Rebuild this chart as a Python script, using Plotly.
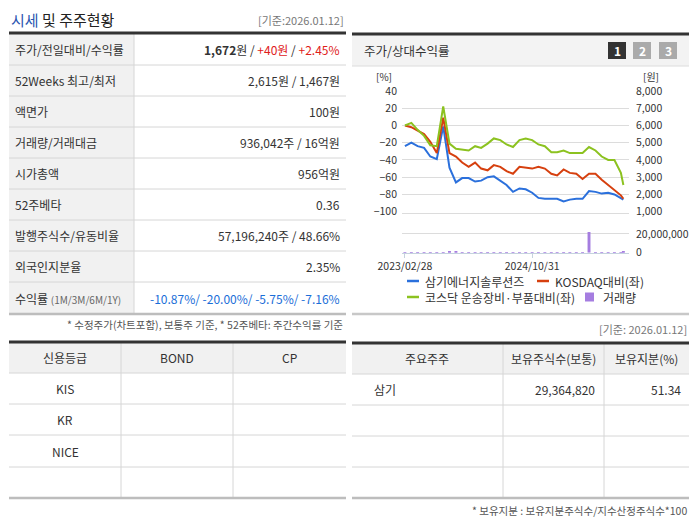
import plotly.graph_objects as go

# the page body keeps an 8px margin, so the figure is 16px smaller than the window
PAGE_W, PAGE_H, BODY = 699, 526, 8
W, H = PAGE_W - 2 * BODY, PAGE_H - 2 * BODY
FONT = "Noto Sans CJK KR"

# ---- chart data (monthly, relative return %) ----
dates = ["2023-02-28", "2023-03-31", "2023-04-30", "2023-05-31", "2023-06-30", "2023-07-31",
         "2023-08-31", "2023-09-30", "2023-10-31", "2023-11-30", "2023-12-31", "2024-01-31",
         "2024-02-29", "2024-03-31", "2024-04-30", "2024-05-31", "2024-06-30", "2024-07-31",
         "2024-08-31", "2024-09-30", "2024-10-31", "2024-11-30", "2024-12-31", "2025-01-31",
         "2025-02-28", "2025-03-31", "2025-04-30", "2025-05-31", "2025-06-30", "2025-07-31",
         "2025-08-31", "2025-09-30", "2025-10-31", "2025-11-30", "2025-12-31", "2026-01-12"]
samgi = [-24, -20, -24, -26, -36, -39, -1, -49, -66, -61, -61, -65, -64, -60, -59, -64, -69, -77,
         -73, -74, -78, -84, -85, -85, -85, -88, -86, -85, -85, -76, -77, -79, -78, -80, -85, -86]
kosdaq = [0, -2, -6, -10, -19, -32, 9, -32, -36, -43, -48, -43, -50, -52, -46, -48, -53, -56,
          -48, -49, -50, -48, -50, -56, -58, -51, -55, -56, -62, -56, -56, -63, -69, -74, -81, -85]
sector = [0, 3, -5, -12, -23, -24, 22, -21, -27, -28, -29, -24, -26, -21, -15, -17, -22, -25,
          -17, -15, -17, -22, -24, -31, -31, -29, -32, -32, -32, -25, -29, -36, -40, -40, -55, -69]
volume = [600000, 100000, 100000, 100000, 100000, 500000, 100000, 800000, 1500000, 600000, 100000, 100000,
          100000, 100000, 600000, 100000, 100000, 100000, 100000, 100000, 100000, 100000, 100000, 100000,
          100000, 100000, 100000, 100000, 100000, 22000000, 600000, 600000, 100000, 100000, 100000, 900000]

pct_ticks = [40, 20, 0, -20, -40, -60, -80, -100]
won_ticks = [8000, 7000, 6000, 5000, 4000, 3000, 2000, 1000]

# ---- table data ----
info_labels = ["주가/전일대비/수익률", "52Weeks 최고/최저", "액면가", "거래량/거래대금", "시가총액",
               "52주베타", "발행주식수/유동비율", "외국인지분율",
               "수익률 <span style='font-size:10px;color:#666'>(1M/3M/6M/1Y)</span>"]
info_values = ["<b>1,672</b>원 / <span style='color:#e0201a'>+40원</span> / "
               "<span style='color:#e0201a'>+2.45%</span>",
               "2,615원 / 1,467원", "100원", "936,042주 / 16억원", "956억원", "0.36",
               "57,196,240주 / 48.66%", "2.35%",
               "<span style='color:#1a6ed8'>-10.87%/ -20.00%/ -5.75%/ -7.16%</span>"]
credit_header = ["신용등급", "BOND", "CP"]
credit_agency = ["KIS", "KR", "NICE", ""]
holder_header = ["주요주주", "보유주식수(보통)", "보유지분(%)"]
holder_names = ["삼기", "", "", ""]
holder_shares = ["29,364,820", "", "", ""]
holder_pct = ["51.34", "", "", ""]

C_BLUE, C_RED, C_GREEN, C_VOL = "#2b70dc", "#d6400f", "#8cc220", "#a57de0"


# page pixel -> paper fraction
def px(x):
    return (x - BODY) / W


def py(y):
    return 1 - (y - BODY) / H


shapes = []
annots = []


def rect(x0, y0, x1, y1, fill):
    shapes.append(dict(type="rect", xref="paper", yref="paper", x0=px(x0), x1=px(x1),
                       y0=py(y1), y1=py(y0), fillcolor=fill, line_width=0, layer="below"))


def line(x0, y0, x1, y1, color, w=1):
    shapes.append(dict(type="line", xref="paper", yref="paper", x0=px(x0), x1=px(x1),
                       y0=py(y0), y1=py(y1), line=dict(color=color, width=w)))


def text(x, y, s, size=12, color="#333", anchor="left"):
    annots.append(dict(xref="paper", yref="paper", x=px(x), y=py(y), text=s, showarrow=False,
                       xanchor=anchor, yanchor="middle", font=dict(family=FONT, size=size, color=color)))


# ---- left: 시세 및 주주현황 ----
text(9, 19, "<span style='color:#2a55b0'>시세</span> 및 주주현황", size=15, color="#222")
text(346, 20, "[기준:2026.01.12]", size=11, color="#777", anchor="right")
rows = [33, 65, 96, 127, 158, 189, 220, 251, 282, 314]
rect(9, 33, 134, 314, "#f1f1f1")
for i in range(len(info_labels)):
    yc = (rows[i] + rows[i + 1]) / 2
    text(13, yc, info_labels[i], size=12)
    text(342, yc, info_values[i], size=12, anchor="right")
    if i > 0:
        line(9, rows[i], 346, rows[i], "#d6d6d6")
line(134, 33, 134, 314, "#d6d6d6")
line(9, 314, 346, 314, "#bdbdbd", 2.5)
line(9, 33, 346, 33, "#333", 3)
text(345, 324, "* 수정주가(차트포함), 보통주 기준, * 52주베타: 주간수익률 기준", size=10.5, color="#555", anchor="right")

# ---- credit table ----
crow = [342, 373, 404, 435, 467, 498]
ccol = [9, 121, 233, 346]
rect(9, 342, 346, 373, "#f1f1f1")
for r in crow[1:-1]:
    line(9, r, 346, r, "#d6d6d6")
for c in ccol[1:-1]:
    line(c, 342, c, 498, "#d6d6d6")
for j, h in enumerate(credit_header):
    text((ccol[j] + ccol[j + 1]) / 2, 357.5, h, size=12, anchor="center")
for i, a in enumerate(credit_agency):
    text((ccol[0] + ccol[1]) / 2, (crow[i + 1] + crow[i + 2]) / 2, a, size=12, anchor="center")
line(9, 498, 346, 498, "#bdbdbd", 2.5)
line(9, 342, 346, 342, "#333", 3)

# ---- holder table ----
text(689, 329, "[기준: 2026.01.12]", size=11, color="#777", anchor="right")
hrow = [343, 374, 405, 436, 467, 498]
hcol = [352, 503, 604, 689]
rect(352, 343, 689, 374, "#f1f1f1")
for r in hrow[1:-1]:
    line(352, r, 689, r, "#d6d6d6")
for c in hcol[1:-1]:
    line(c, 343, c, 498, "#d6d6d6")
for j, h in enumerate(holder_header):
    text((hcol[j] + hcol[j + 1]) / 2, 358.5, h, size=12, anchor="center")
for i in range(len(holder_names)):
    yc = (hrow[i + 1] + hrow[i + 2]) / 2
    text(372, yc, holder_names[i], size=12)
    text(597, yc, holder_shares[i], size=12, anchor="right")
    text(683, yc, holder_pct[i], size=12, anchor="right")
line(352, 498, 689, 498, "#bdbdbd", 2.5)
line(352, 343, 689, 343, "#333", 3)
text(689, 510, "* 보유지분 : 보유지분주식수/지수산정주식수*100", size=10.5, color="#555", anchor="right")

# ---- chart panel ----
rect(352, 34, 689, 66, "#f3f3f3")
line(352, 66, 689, 66, "#dcdcdc")
line(352, 34, 689, 34, "#333", 3)
line(352, 314, 689, 314, "#c8c8c8", 2.5)
text(362, 50, "주가/상대수익률", size=12.5)
for k, (bx, col) in enumerate([(608, "#333"), (633, "#aaa"), (659, "#aaa")]):
    rect(bx, 42, bx + 18, 59, col)
    text(bx + 9, 50.5, "<b>%d</b>" % (k + 1), size=12, color="white", anchor="center")
text(384, 76.5, "[%]", size=10, anchor="center")
text(651, 76.5, "[원]", size=10, anchor="center")
line(402, 213.5, 629, 213.5, "#dcdcdc")

# legend
legend_items = [(407, 281, C_BLUE, "삼기에너지솔루션즈", "line"), (537, 281, C_RED, "KOSDAQ대비(좌)", "line"),
                (407, 297, C_GREEN, "코스닥 운송장비·부품대비(좌)", "line"), (585, 297, C_VOL, "거래량", "box")]
for lx, ly, col, name, kind in legend_items:
    if kind == "line":
        line(lx, ly, lx + 12, ly, col, 2.5)
    else:
        rect(lx, ly - 4.5, lx + 9, ly + 4.5, col)
    text(lx + 16, ly, name, size=12)

fig = go.Figure()
fig.add_trace(go.Scatter(x=dates, y=samgi, mode="lines", line=dict(color=C_BLUE, width=2),
                         xaxis="x", yaxis="y", showlegend=False))
fig.add_trace(go.Scatter(x=dates, y=kosdaq, mode="lines", line=dict(color=C_RED, width=2),
                         xaxis="x", yaxis="y", showlegend=False))
fig.add_trace(go.Scatter(x=dates, y=sector, mode="lines", line=dict(color=C_GREEN, width=2),
                         xaxis="x", yaxis="y", showlegend=False))
fig.add_trace(go.Bar(x=dates, y=volume, marker=dict(color=C_VOL, line_width=0), width=14 * 86400000,
                     xaxis="x", yaxis="y3", showlegend=False))
# dummy trace so the price axis renders
fig.add_trace(go.Scatter(x=[dates[0]], y=[None], xaxis="x", yaxis="y2", showlegend=False))

tickfont = dict(family=FONT, size=10.5, color="#333")
fig.update_layout(
    width=W, height=H, margin=dict(l=0, r=0, t=0, b=0, autoexpand=False),
    paper_bgcolor="white", plot_bgcolor="white", showlegend=False,
    shapes=shapes, annotations=annots,
    xaxis=dict(domain=[px(402), px(629)], anchor="y3", type="date", automargin=False,
               range=["2023-02-14", "2026-02-08"],
               tickvals=["2023-02-28", "2024-10-31"], ticktext=["2023/02/28", "2024/10/31"],
               ticks="outside", ticklen=4, tickcolor="#c5d2de", showline=True, linecolor="#c5d2de",
               showgrid=False, tickfont=tickfont, fixedrange=True),
    yaxis=dict(domain=[py(211.7), py(91)], range=[-100, 40], anchor="x", side="left", automargin=False,
               tickvals=pct_ticks, showgrid=True, gridcolor="#dcdcdc", zeroline=False,
               ticklabelstandoff=4, tickfont=tickfont),
    yaxis2=dict(overlaying="y", anchor="x", side="right", range=[1000, 8000], automargin=False,
                tickvals=won_ticks, ticktext=["{:,}".format(v) for v in won_ticks],
                showgrid=False, zeroline=False, ticklabelstandoff=6, tickfont=tickfont),
    yaxis3=dict(domain=[py(252.7), py(226)], range=[0, 28500000], anchor="x", side="right",
                automargin=False, tickvals=[0, 20000000], ticktext=["0", "20,000,000"], showgrid=True,
                gridcolor="#dcdcdc", zeroline=False, ticklabelstandoff=6, tickfont=tickfont),
)

fig.write_html("out.html")
